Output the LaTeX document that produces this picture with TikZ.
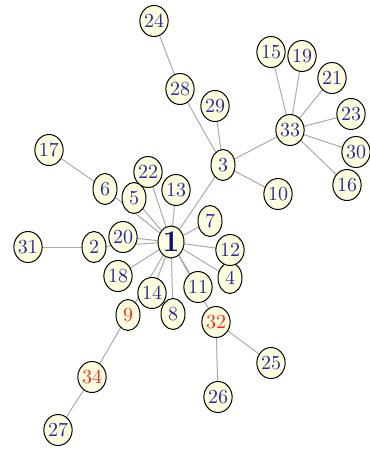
\documentclass[tikz,border=0pt]{standalone}
\usetikzlibrary{shapes.geometric,backgrounds}
\definecolor{nfill}{RGB}{255,255,221}
\definecolor{nblue}{RGB}{40,40,175}
\definecolor{nred}{RGB}{255,40,40}
\definecolor{ndark}{RGB}{10,10,140}
\definecolor{egray}{RGB}{170,170,170}
\tikzset{
  vtx/.style={ellipse,draw=black,line width=0.5pt,fill=nfill,inner sep=0pt,minimum width=12pt,minimum height=15.5pt,text=nblue,font=\fontsize{10}{10}\selectfont},
  redv/.style={vtx,text=nred},
  bigv/.style={vtx,text=ndark,font=\fontsize{15}{15}\selectfont\bfseries,minimum width=13pt,minimum height=16pt},
  edge/.style={draw=egray,line width=0.5pt}
}
\begin{document}
\begin{tikzpicture}[x=0.5pt,y=-0.5pt]
\useasboundingbox (0,0) rectangle (369,449);
\node[bigv] (n1) at (171,242) {1};
\node[vtx] (n2) at (94,247) {2};
\node[vtx] (n3) at (223,165) {3};
\node[vtx] (n4) at (230,278) {4};
\node[vtx] (n5) at (134,198) {5};
\node[vtx] (n6) at (105,189) {6};
\node[vtx] (n7) at (210,221) {7};
\node[vtx] (n8) at (173,314) {8};
\node[redv] (n9) at (128,315) {9};
\node[vtx] (n10) at (278,194) {10};
\node[vtx] (n11) at (198,287) {11};
\node[vtx] (n12) at (230,250) {12};
\node[vtx] (n13) at (176,190) {13};
\node[vtx] (n14) at (152,293) {14};
\node[vtx] (n15) at (271,52) {15};
\node[vtx] (n16) at (347,185) {16};
\node[vtx] (n17) at (49,150) {17};
\node[vtx] (n18) at (118,276) {18};
\node[vtx] (n19) at (302,56) {19};
\node[vtx] (n20) at (123,237) {20};
\node[vtx] (n21) at (332,78) {21};
\node[vtx] (n22) at (148,172) {22};
\node[vtx] (n23) at (351,114) {23};
\node[vtx] (n24) at (154,21) {24};
\node[vtx] (n25) at (271,363) {25};
\node[vtx] (n26) at (218,397) {26};
\node[vtx] (n27) at (58,430) {27};
\node[vtx] (n28) at (180,89) {28};
\node[vtx] (n29) at (215,106) {29};
\node[vtx] (n30) at (356,152) {30};
\node[vtx] (n31) at (28,247) {31};
\node[redv] (n32) at (216,322) {32};
\node[vtx] (n33) at (290,130) {33};
\node[redv] (n34) at (92,377) {34};
\begin{pgfonlayer}{background}
\foreach \a/\b in {1/2,1/3,1/4,1/5,1/6,1/7,1/8,1/9,1/11,1/12,1/13,1/14,1/18,1/20,1/22,1/32,
  2/31,3/10,3/28,3/29,3/33,6/17,9/34,32/25,32/26,28/24,33/15,33/16,33/19,33/21,33/23,33/30,34/27}
  \draw[edge] (n\a.center) -- (n\b.center);
\end{pgfonlayer}
\end{tikzpicture}
\end{document}
